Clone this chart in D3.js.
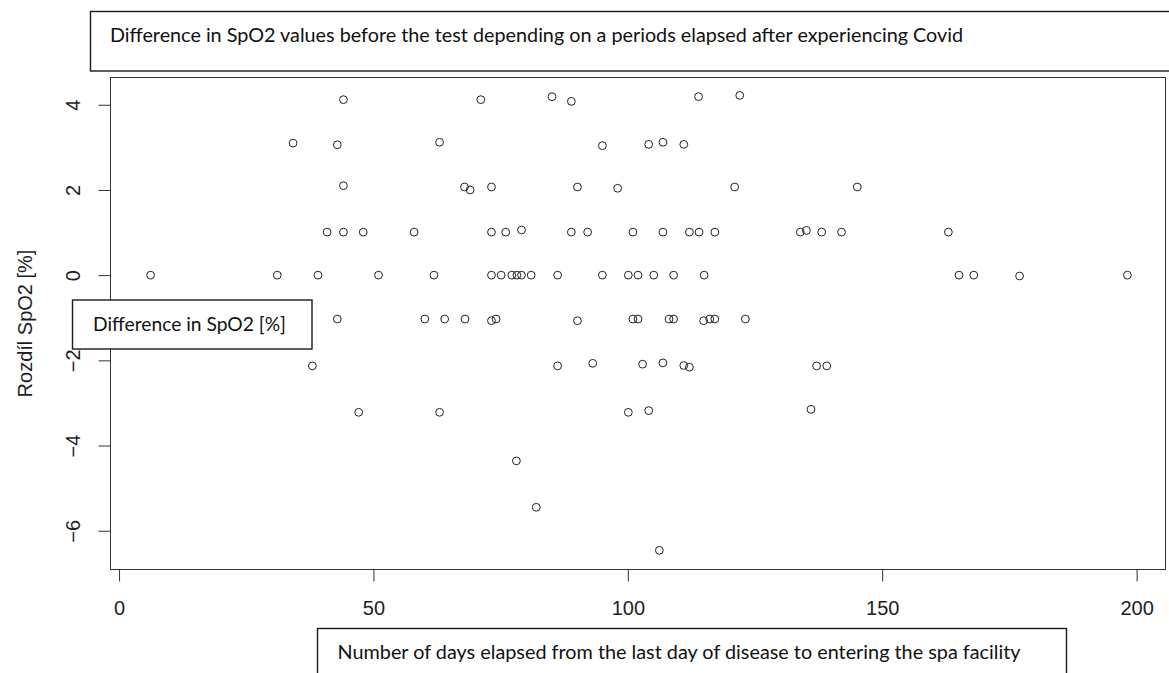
<!DOCTYPE html>
<html>
<head>
<meta charset="utf-8">
<script src="https://cdn.jsdelivr.net/npm/d3@7"></script>
<style>
  html, body { margin: 0; padding: 0; background: #fff; }
  svg { display: block; }
</style>
</head>
<body>
<svg id="chart" width="1169" height="673"></svg>
<script>
// Days elapsed since the last day of disease, per patient
const days = [
  6.2, 31.1, 39.1, 51.0, 61.9, 73.2, 75.1, 77.2, 78.2, 79.1, 81.0, 86.2, 95.0, 100.1, 102.0, 105.1, 109.0, 115.0, 165.1, 168.0, 177.0, 198.2,
  40.9, 44.1, 48.0, 58.0, 73.2, 76.0, 79.1, 88.9, 92.1, 101.0, 106.9, 112.1, 114.0, 117.1, 133.9, 135.1, 138.1, 142.0, 163.0,
  44.1, 67.9, 69.0, 73.2, 90.1, 98.0, 121.0, 145.1,
  34.2, 42.9, 63.0, 95.0, 104.1, 106.9, 111.0,
  44.1, 71.1, 85.1, 88.9, 113.9, 122.0,
  42.9, 60.1, 64.0, 68.0, 73.2, 74.1, 90.1, 101.0, 102.0, 108.1, 109.0, 114.9, 116.1, 117.1, 123.1,
  38.0, 86.2, 93.1, 102.9, 106.9, 111.0, 112.1, 137.1, 139.1,
  47.1, 63.0, 100.1, 104.1, 136.0,
  78.1, 82.0, 106.2
];

// Difference in SpO2 before the test [%], same order as days
const spo2Diff = [
  0, 0, 0, 0, 0, 0, 0, 0, 0, 0, 0, 0, 0, 0, 0, 0, 0, 0, 0, 0, -0.02, 0,
  1.01, 1.01, 1.01, 1.01, 1.01, 1.01, 1.06, 1.01, 1.01, 1.01, 1.01, 1.01, 1.01, 1.01, 1.01, 1.05, 1.01, 1.01, 1.01,
  2.10, 2.07, 2.00, 2.07, 2.07, 2.04, 2.07, 2.07,
  3.10, 3.06, 3.12, 3.04, 3.07, 3.12, 3.07,
  4.12, 4.12, 4.19, 4.08, 4.19, 4.22,
  -1.03, -1.03, -1.03, -1.03, -1.07, -1.03, -1.07, -1.03, -1.03, -1.03, -1.03, -1.07, -1.03, -1.03, -1.03,
  -2.13, -2.13, -2.07, -2.09, -2.06, -2.12, -2.16, -2.13, -2.13,
  -3.22, -3.22, -3.22, -3.18, -3.15,
  -4.36, -5.45, -6.46
];

const xTicks = [0, 50, 100, 150, 200];
const yTicks = [-6, -4, -2, 0, 2, 4];

const titleText = "Difference in SpO2 values before the test depending on a periods elapsed after experiencing Covid";
const xLabelText = "Number of days elapsed from the last day of disease to entering the spa facility";
const yAxisTitle = "Rozdíl SpO2 [%]";
const yLabelText = "Difference in SpO2 [%]";

const svg = d3.select("#chart");

// plot region (R-style, 4% padding around the data range)
const plot = { left: 110.5, top: 77.5, right: 1165.5, bottom: 569.5 };

const x = d3.scaleLinear().domain([-1.68, 205.68]).range([plot.left, plot.right]);
const y = d3.scaleLinear().domain([-6.91, 4.64]).range([plot.bottom, plot.top]);

const inkColor = "#1e1e1e";
const axisFont = "'Liberation Sans', Arial, sans-serif";
const boxFont = "Lato, 'Open Sans', sans-serif";

// points
svg.append("g")
  .selectAll("circle")
  .data(days.map((d, i) => [d, spo2Diff[i]]))
  .join("circle")
  .attr("cx", d => x(d[0]))
  .attr("cy", d => y(d[1]))
  .attr("r", 3.9)
  .attr("fill", "none")
  .attr("stroke", "#222")
  .attr("stroke-width", 1);

// frame around plot region
svg.append("rect")
  .attr("x", plot.left).attr("y", plot.top)
  .attr("width", plot.right - plot.left).attr("height", plot.bottom - plot.top)
  .attr("fill", "none").attr("stroke", "#333").attr("stroke-width", 1);

// y axis with rotated labels
const yAxis = svg.append("g")
  .attr("transform", `translate(${plot.left},0)`)
  .call(d3.axisLeft(y).tickValues(yTicks).tickSize(12).tickSizeOuter(0).tickFormat(d3.format("d")));
yAxis.select(".domain").remove();
yAxis.selectAll(".tick line").attr("stroke", "#333");
yAxis.selectAll(".tick text")
  .attr("x", null).attr("dy", null)
  .attr("text-anchor", "middle")
  .attr("transform", "translate(-31,0) rotate(-90)")
  .attr("fill", inkColor)
  .style("font-family", axisFont)
  .style("font-size", "20px");

// x axis
const xAxis = svg.append("g")
  .attr("transform", `translate(0,${plot.bottom})`)
  .call(d3.axisBottom(x).tickValues(xTicks).tickSize(12).tickSizeOuter(0).tickFormat(d3.format("d")));
xAxis.select(".domain").remove();
xAxis.selectAll(".tick line").attr("stroke", "#333");
xAxis.selectAll(".tick text")
  .attr("y", 45.5).attr("dy", null)
  .attr("fill", inkColor)
  .style("font-family", axisFont)
  .style("font-size", "20px");

// rotated y axis title
svg.append("text")
  .attr("transform", `translate(32,${(plot.top + plot.bottom) / 2}) rotate(-90)`)
  .attr("text-anchor", "middle")
  .attr("fill", inkColor)
  .style("font-family", axisFont)
  .style("font-size", "20px")
  .text(yAxisTitle);

// framed caption boxes
function captionBox(bx, by, bw, bh, tx, ty, text, len) {
  svg.append("rect")
    .attr("x", bx).attr("y", by).attr("width", bw).attr("height", bh)
    .attr("fill", "#fff").attr("stroke", "#1a1a1a").attr("stroke-width", 1.4);
  svg.append("text")
    .attr("x", tx).attr("y", ty)
    .attr("fill", "#111")
    .attr("textLength", len)
    .attr("lengthAdjust", "spacingAndGlyphs")
    .style("font-family", boxFont)
    .style("font-size", "19.5px")
    .text(text);
}

captionBox(90.5, 11.5, 1100, 59.5, 110, 41.7, titleText, 853);
captionBox(72.5, 300, 239.5, 49, 93, 331, yLabelText, 193);
captionBox(317.5, 628.5, 749, 60, 337.5, 659, xLabelText, 683);
</script>
</body>
</html>
